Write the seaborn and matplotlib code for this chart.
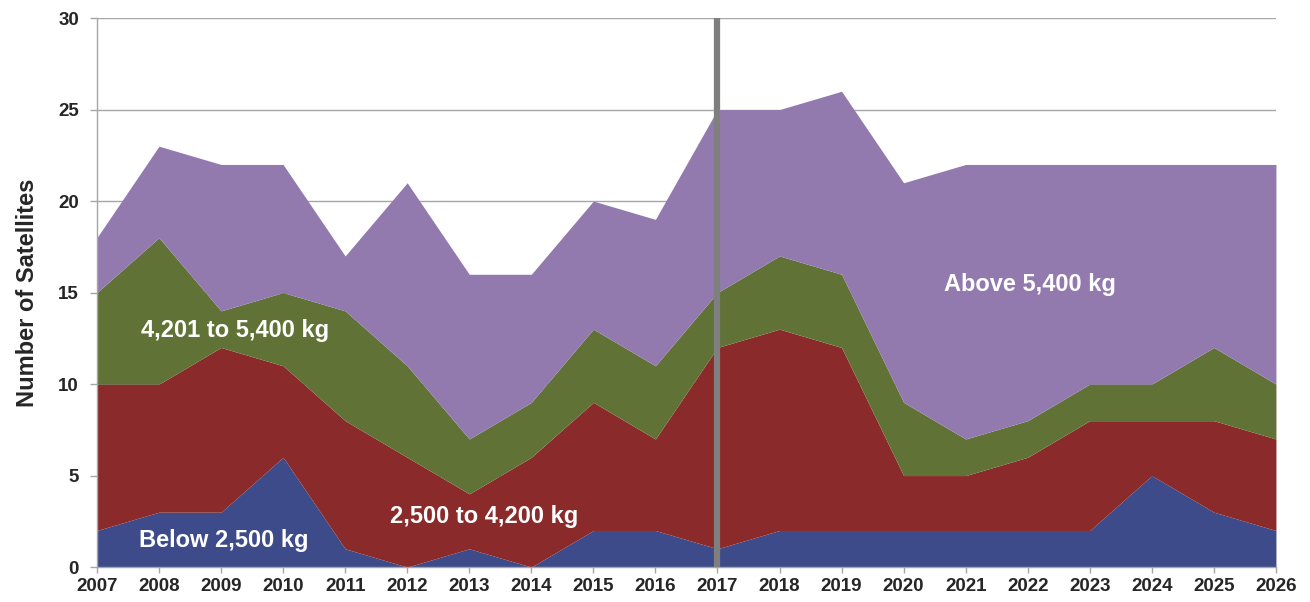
import numpy as np
import pandas as pd
import matplotlib
matplotlib.use("Agg")
import matplotlib.pyplot as plt
import seaborn as sns

# ========== Data (satellites per mass class) ==========
years = list(range(2007, 2027))
below_2500 = [2, 3, 3, 6, 1, 0, 1, 0, 2, 2, 1, 2, 2, 2, 2, 2, 2, 5, 3, 2]
from_2500_to_4200 = [8, 7, 9, 5, 7, 6, 3, 6, 7, 5, 11, 11, 10, 3, 3, 4, 6, 3, 5, 5]
from_4201_to_5400 = [5, 8, 2, 4, 6, 5, 3, 3, 4, 4, 3, 4, 4, 4, 2, 2, 2, 2, 4, 3]
above_5400 = [3, 5, 8, 7, 3, 10, 9, 7, 7, 8, 10, 8, 10, 12, 15, 14, 12, 12, 10, 12]
series_labels = ["Below 2,500 kg", "2,500 to 4,200 kg", "4,201 to 5,400 kg", "Above 5,400 kg"]
divider_year = 2017

df = pd.DataFrame({
    "year": years,
    series_labels[0]: below_2500,
    series_labels[1]: from_2500_to_4200,
    series_labels[2]: from_4201_to_5400,
    series_labels[3]: above_5400,
})

# ========== Style ==========
sns.set_theme(style="white")
plt.rcParams["font.family"] = ["Liberation Sans", "DejaVu Sans"]
colors = ["#3d4b8a", "#8b2a2a", "#617236", "#927aaf"]
grid_grey = "#a6a6a6"

fig = plt.figure(figsize=(13.1, 6.02), dpi=100)
ax = fig.add_axes([0.074, 0.058, 0.9, 0.912])

ax.stackplot(df["year"], [df[c] for c in series_labels], colors=colors,
             linewidth=0, zorder=2)

# horizontal gridlines
for v in range(5, 31, 5):
    ax.axhline(v, color=grid_grey, linewidth=1, zorder=1)

# forecast divider
ax.axvline(divider_year, color="#7f7f7f", linewidth=4.5, zorder=3)

ax.set_xlim(years[0], years[-1])
ax.set_ylim(0, 30)
ax.set_xticks(years)
ax.set_xticklabels([str(y) for y in years], fontsize=13.5, fontweight="bold")
ax.set_yticks(range(0, 31, 5))
ax.set_yticklabels([str(v) for v in range(0, 31, 5)], fontsize=13.5, fontweight="bold")
ax.tick_params(axis="x", direction="out", length=4, color=grid_grey, width=1,
               bottom=True, pad=4)
ax.tick_params(axis="y", direction="out", length=5, color=grid_grey, width=1,
               left=True, pad=8)
ax.set_ylabel("Number of Satellites", fontsize=17, fontweight="bold", labelpad=14)

sns.despine(ax=ax, top=True, right=True)
for s in ["left", "bottom"]:
    ax.spines[s].set_color(grid_grey)
    ax.spines[s].set_linewidth(1)

# ========== Series labels ==========
label_kw = dict(color="white", fontsize=17, fontweight="bold", ha="center", va="center", zorder=4)
ax.text(2009.05, 1.45, series_labels[0], **label_kw)
ax.text(2009.22, 12.95, series_labels[2], **label_kw)
ax.text(2013.24, 2.75, series_labels[1], **label_kw)
ax.text(2022.04, 15.45, series_labels[3], **label_kw)

fig.savefig("out.png", dpi=100)
plt.close(fig)
